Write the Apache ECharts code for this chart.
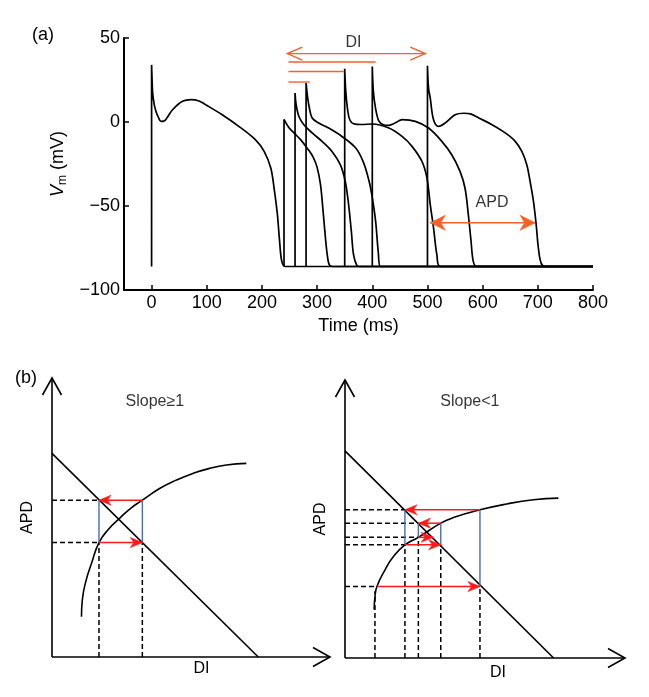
<!DOCTYPE html>
<html><head><meta charset="utf-8">
<script src="https://cdn.jsdelivr.net/npm/echarts@6/dist/echarts.min.js"></script>
<style>html,body{margin:0;padding:0;background:#fff}#c{width:649px;height:697px}</style>
</head><body><div id="c"></div>
<script>
// ===== Panel (a): action potentials, Time (ms) vs Vm (mV) =====
const xTicks = [0,100,200,300,400,500,600,700,800];
const ap0   = [[0,-86],[0,34],[1,24],[2,17],[5,10],[8,6.3],[12,3],[17,0.4],[22,0.5],[28,2.5],[38,7.3],[56,12.3],[72,13.3],[86,12.5],[98,10.3],[128,4.3],[158,-2.6],[188,-10.5],[204,-17.5],[216,-27.4],[222,-39.3],[228,-55],[232,-71],[236,-83],[242,-86],[800,-86]];
const ap240 = [[240,-86],[240,1.5],[248,-3],[258,-6.5],[270,-10.5],[283,-16],[293,-21],[300,-27],[306,-37],[310,-50],[314,-65],[318,-78],[322,-85],[328,-86],[800,-86]];
const ap260 = [[260,-86],[260,17.3],[262,10.3],[267,3.3],[276,-1.6],[291,-6.5],[309,-11.5],[327,-17.5],[342,-25.4],[351,-35.4],[357,-49],[362,-65],[366,-79],[372,-85.5],[376,-86],[800,-86]];
const ap280 = [[280,-86],[280,23.2],[283,14],[286,8.3],[291,2.4],[303,-0.6],[321,-3.6],[345,-8.6],[370,-15.5],[384,-24],[394,-35],[400,-45],[406,-59],[411,-78],[415,-86],[800,-86]];
const ap350 = [[350,-86],[350,31.7],[352,18],[355,8],[359,1.5],[366,-1],[380,-1.5],[400,-1.2],[430,-3.6],[454,-8.6],[472,-14.5],[490,-23.5],[499,-33.3],[505,-49],[511,-63],[517,-79],[523,-86],[800,-86]];
const ap400 = [[400,-86],[400,33],[402,18],[406,8],[412,0.5],[420,-1.6],[430,-2],[442,-0.5],[454,1.4],[478,0.4],[502,-3.6],[526,-11.5],[544,-19.5],[559,-29.4],[568,-39.3],[574,-55],[579,-71],[583,-83],[589,-86],[800,-86]];
const ap500 = [[500,-86],[500,33.5],[502,20],[505,14.3],[511,1.4],[520,-2.6],[532,-0.6],[550,4.3],[566,5.2],[578,4.8],[593,2.4],[617,-1.6],[641,-6.5],[659,-11.5],[671,-17.5],[680,-25.4],[686,-35.4],[692,-47],[697,-61],[701,-75],[706,-84],[713,-86],[800,-86]];
const traces = [ap0, ap240, ap260, ap280, ap350, ap400, ap500];
// DI marker lines (t start, level, t end, level)
const diArrow = [[246,40.7,496,40.7]];
const diLines = [[248,35.7,406,35.7],[248,30.1,348.5,30.1],[248,23.8,286.4,23.8]];
const apdArrow = [[505,-60,695,-60]];
const aLabels = [{value:[366,47.5], name:'DI'},{value:[617,-48], name:'APD'}];

// ===== Panel (b): restitution schematics (arbitrary units 0-100) =====
const axisArrows = [[0,0,100,0],[0,0,0,100]];
const lDiag  = [[0,73],[74.2,0]];
const lCurve = [[10.6,14.4],[10.9,20.4],[12.3,27.6],[14.2,33.5],[16.9,41],[20.5,46],[24.4,49.8],[28.3,53.3],[32.5,56.2],[38.7,60.4],[44.7,63.4],[50.7,65.8],[56.7,67.6],[62.7,68.8],[69.9,69.4]];
const lDashed = [[0,56.2,16.9,56.2],[0,41,16.9,41],[16.9,0,16.9,41],[32.5,0,32.5,41]];
const lBlue   = [[16.9,41,16.9,56.2],[32.5,41,32.5,56.2]];
const lRed    = [[32.5,56.2,16.9,56.2],[16.9,41,32.5,41]];
const lLabel  = [{value:[37,91.5], name:'Slope≥1'}];

const rDiag  = [[0,74.5],[74.5,0]];
const rCurve = [[10.4,17.4],[10.7,22],[11.4,25.7],[14.3,31.7],[17.3,36.5],[21.4,40.7],[26.2,43.4],[34.2,48.5],[38.7,50.5],[48.2,53.3],[57.7,55.4],[67.3,56.9],[76.2,57.5]];
const rDashed = [[0,53.3,21.4,53.3],[0,48.5,26.2,48.5],[0,43.4,26.2,43.4],[0,40.7,21.4,40.7],[0,25.7,10.7,25.7],[10.7,0,10.7,24],[21.4,0,21.4,40.7],[26.2,0,26.2,43.4],[34.2,0,34.2,40.7],[48.2,0,48.2,25.7]];
const rBlue   = [[48.2,25.7,48.2,53.3],[21.4,53.3,21.4,40.7],[34.2,40.7,34.2,48.5],[26.2,48.5,26.2,43.4]];
const rRed    = [[11.4,25.7,48.2,25.7],[48.2,53.3,21.4,53.3],[21.4,40.7,34.2,40.7],[34.2,48.5,26.2,48.5],[26.2,43.4,31.5,43.4]];
const rLabel  = [{value:[44.6,92.2], name:'Slope<1'}];

// ===== rendering =====
const FONT = "'Liberation Sans', Arial, sans-serif";
const ORANGE = '#f4612a', RED = '#ff1a1a', BLUE = '#4a6ea8';

function head(tip, from, o) {
  const dx = tip[0]-from[0], dy = tip[1]-from[1];
  const len = Math.hypot(dx, dy) || 1;
  const ux = dx/len, uy = dy/len, nx = -uy, ny = ux;
  const bx = tip[0]-ux*o.L, by = tip[1]-uy*o.L;
  if (o.open) {
    return {type:'polyline', shape:{points:[[bx+nx*o.W,by+ny*o.W],[tip[0],tip[1]],[bx-nx*o.W,by-ny*o.W]]},
      style:{stroke:o.color, lineWidth:o.width, fill:null}};
  }
  const k = o.notch || 0.65;
  return {type:'polygon', shape:{points:[[tip[0],tip[1]],[bx+nx*o.W,by+ny*o.W],[tip[0]-ux*o.L*k,tip[1]-uy*o.L*k],[bx-nx*o.W,by-ny*o.W]]},
    style:{fill:o.color, stroke:o.color, lineWidth:0.6}};
}
function segSeries(idx, data, o) {
  return {
    type:'custom', xAxisIndex:idx, yAxisIndex:idx, data:data, silent:true, z:o.z||3,
    encode:{x:[0,2], y:[1,3]}, animation:false,
    renderItem:function(params, api){
      const p1 = api.coord([api.value(0), api.value(1)]);
      const p2 = api.coord([api.value(2), api.value(3)]);
      const ch = [{type:'line', shape:{x1:p1[0],y1:p1[1],x2:p2[0],y2:p2[1]},
        style:{stroke:o.color, lineWidth:o.width, lineDash:o.dash||null, fill:null}}];
      if (o.end) ch.push(head(p2, p1, o));
      if (o.start) ch.push(head(p1, p2, o));
      return {type:'group', children:ch};
    }
  };
}
function labelSeries(idx, data, size) {
  return {type:'scatter', xAxisIndex:idx, yAxisIndex:idx, data:data, symbolSize:0, silent:true, z:5,
    label:{show:true, position:'inside', formatter:'{b}', color:'#000', fontSize:size, fontFamily:FONT}};
}
function lineSeries(idx, data, smooth, width) {
  return {type:'line', xAxisIndex:idx, yAxisIndex:idx, data:data, showSymbol:false, smooth:smooth,
    lineStyle:{color:'#000', width:width}, silent:true, z:2, animation:false};
}
function schemAxisX(idx, padLeft, gap) {
  return {gridIndex:idx, type:'value', min:0, max:100, axisLine:{show:false}, axisTick:{show:false},
    axisLabel:{show:false}, splitLine:{show:false}, name:'DI', nameLocation:'middle', nameGap:gap,
    nameTextStyle:{fontSize:16, color:'#000', fontFamily:FONT, padding:[0,0,0,padLeft]}};
}
function schemAxisY(idx) {
  return {gridIndex:idx, type:'value', min:0, max:100, axisLine:{show:false}, axisTick:{show:false},
    axisLabel:{show:false}, splitLine:{show:false}, name:'APD', nameLocation:'middle', nameGap:16,
    nameTextStyle:{fontSize:16, color:'#000', fontFamily:FONT}};
}

const series = [];
traces.forEach(t => series.push(lineSeries(0, t, 0.35, 1.7)));
series.push(segSeries(0, diArrow, {color:ORANGE, width:1.4, start:true, end:true, open:true, L:15, W:6.5}));
series.push(segSeries(0, diLines, {color:ORANGE, width:1.4}));
series.push(segSeries(0, apdArrow, {color:ORANGE, width:1.4, start:true, end:true, L:15, W:7.5, notch:0.7}));
series.push(labelSeries(0, aLabels, 16));

[[1, lDiag, lCurve, lDashed, lBlue, lRed, lLabel],[2, rDiag, rCurve, rDashed, rBlue, rRed, rLabel]].forEach(p => {
  const i = p[0];
  series.push(segSeries(i, axisArrows, {color:'#000', width:1.6, end:true, open:true, L:17, W:9.5}));
  series.push(lineSeries(i, p[1], false, 1.6));
  series.push(lineSeries(i, p[2], 0.5, 1.6));
  series.push(segSeries(i, p[3], {color:'#000', width:1.5, dash:[5,3]}));
  series.push(segSeries(i, p[4], {color:BLUE, width:1.4, z:4}));
  series.push(segSeries(i, p[5], {color:RED, width:1.5, end:true, L:12, W:5, notch:0.7, z:5}));
  series.push(labelSeries(i, p[6], 16));
});

const chart = echarts.init(document.getElementById('c'), null, {renderer:'canvas'});
chart.setOption({
  animation:false,
  backgroundColor:'#fff',
  textStyle:{fontFamily:FONT},
  grid:[
    {left:124, top:38, right:56, bottom:407},
    {left:52, top:378, width:278, height:279},
    {left:345, top:380, width:280, height:278}
  ],
  xAxis:[
    {gridIndex:0, type:'value', min:-50, max:800,
     axisLine:{show:true, onZero:false, lineStyle:{color:'#000', width:2}},
     axisTick:{show:true, inside:true, length:5, customValues:xTicks, lineStyle:{color:'#000', width:1.5}},
     axisLabel:{show:true, customValues:xTicks, color:'#000', fontSize:18, margin:4, fontFamily:FONT},
     splitLine:{show:false},
     name:'Time (ms)', nameLocation:'middle', nameGap:27,
     nameTextStyle:{fontSize:18, color:'#000', fontFamily:FONT}},
    schemAxisX(1, 21, 4),
    schemAxisX(2, 26, 7)
  ],
  yAxis:[
    {gridIndex:0, type:'value', min:-100, max:50, interval:50,
     axisLine:{show:true, onZero:false, lineStyle:{color:'#000', width:2}},
     axisTick:{show:true, inside:true, length:5, lineStyle:{color:'#000', width:1.5}},
     axisLabel:{show:true, color:'#000', fontSize:18, margin:4, fontFamily:FONT,
       formatter:v => String(v).replace('-', '\u2212')},
     splitLine:{show:false},
     name:'{v|V}{s|m}{n| (mV)}', nameLocation:'middle', nameGap:46,
     nameTextStyle:{color:'#000', fontFamily:FONT, fontSize:18,
       rich:{v:{fontStyle:'italic', fontSize:18, lineHeight:22, fontFamily:FONT},
             s:{fontSize:12, lineHeight:12, verticalAlign:'bottom', fontFamily:FONT},
             n:{fontSize:18, lineHeight:22, fontFamily:FONT}}}},
    schemAxisY(1),
    schemAxisY(2)
  ],
  graphic:[
    {type:'text', left:32, top:26, style:{text:'(a)', font:'18px ' + FONT, fill:'#000'}},
    {type:'text', left:15, top:369, style:{text:'(b)', font:'18px ' + FONT, fill:'#000'}}
  ],
  series:series
});
</script></body></html>
